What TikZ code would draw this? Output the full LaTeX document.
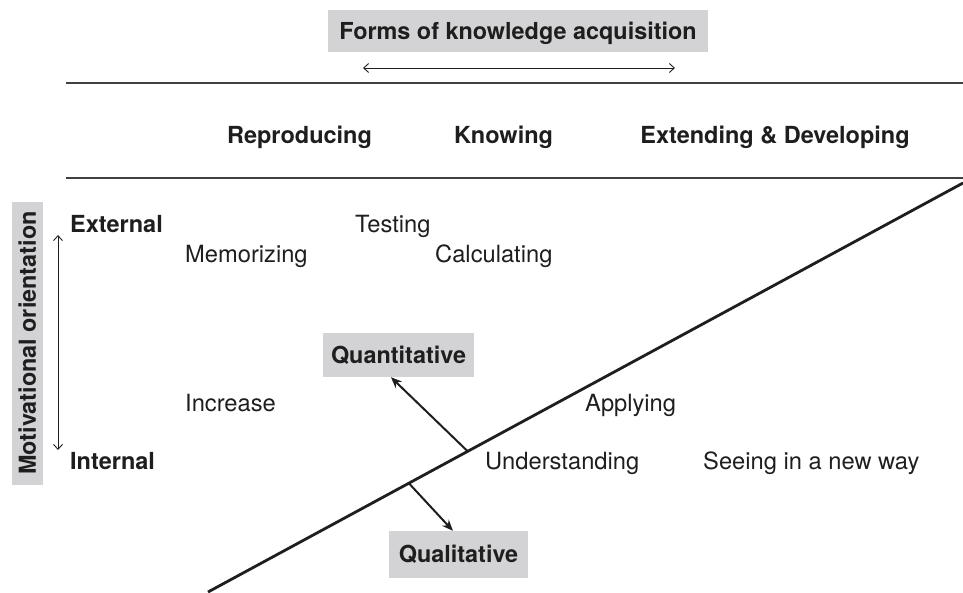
\documentclass[tikz,border=0pt]{standalone}
\usepackage{fontspec}
\setmainfont{TeX Gyre Heros}
\usetikzlibrary{arrows.meta,calc}
\definecolor{boxgray}{RGB}{211,211,213}
\definecolor{ink}{RGB}{30,30,30}
\tikzset{
  txt/.style={inner sep=0pt, anchor=base west, font=\fontsize{23.7}{28}\selectfont, text=ink},
  hdr/.style={inner sep=0pt, anchor=base, font=\fontsize{23.5}{28}\selectfont\bfseries, text=ink},
  bld/.style={inner sep=0pt, anchor=base west, font=\fontsize{23.5}{28}\selectfont\bfseries, text=ink},
  graybox/.style={fill=boxgray, inner sep=0pt, text height=16.5pt, text depth=0pt, font=\fontsize{23.4}{28}\selectfont\bfseries, text=ink},
  rule/.style={line width=1.3pt, draw=ink!85},
  dbl/.style={line width=0.9pt, draw=ink, {Straight Barb[length=5pt,width=9pt]}-{Straight Barb[length=5pt,width=9pt]}},
  arr/.style={line width=2pt, draw=ink, -{Stealth[length=11pt,width=9pt]}}
}
\begin{document}
\begin{tikzpicture}[x=1pt,y=-1pt]
\useasboundingbox (0,0) rectangle (963,592);
% title
\node[graybox, minimum width=380pt, minimum height=42pt] (title) at (518,31) {Forms of knowledge acquisition};
\coordinate (ha) at (363,68);
\coordinate (hb) at (675,68);
\draw[dbl] (ha) -- (hb);
% rules
\coordinate (r1a) at (66,83); \coordinate (r1b) at (963,83);
\coordinate (r2a) at (66,178); \coordinate (r2b) at (963,178);
\draw[rule] (r1a) -- (r1b);
\draw[rule] (r2a) -- (r2b);
% headers
\node[hdr] (repro) at (299.5,143) {Reproducing};
\node[hdr] (know) at (503.5,143) {Knowing};
\node[hdr] (ext) at (775,143) {Extending \& Developing};
% left axis
\node[graybox, minimum width=283pt, minimum height=31pt, rotate=90] (motiv) at (27.5,343) {Motivational orientation};
\node[bld] (external) at (70,232) {External};
\node[bld] (internal) at (70,469) {Internal};
\coordinate (va) at (58,235);
\coordinate (vb) at (58,450);
\draw[dbl] (va) -- (vb);
% words
\node[txt] (testing) at (355,232) {Testing};
\node[txt] (memo) at (185,262) {Memorizing};
\node[txt] (calc) at (435,262) {Calculating};
\node[txt] (incr) at (185,411) {Increase};
\node[txt] (apply) at (585,411) {Applying};
\node[txt] (under) at (485,469) {Understanding};
\node[txt] (seeing) at (703,469) {Seeing in a new way};
% diagonal
\coordinate (dl) at (208,592);
\coordinate (dr) at (963,183);
\draw[line width=2.8pt, draw=ink] (dl) -- (dr);
% boxes
\node[graybox, minimum width=151pt, minimum height=44pt] (quant) at (398.5,355) {Quantitative};
\node[graybox, minimum width=139pt, minimum height=47pt] (qual) at (458.5,554.5) {Qualitative};
\coordinate (qs) at ($(dl)!0.344!(dr)$);
\coordinate (ls) at ($(dl)!0.266!(dr)$);
\draw[arr] (qs) -- ($(quant.south west)!0.45!(quant.south east)$);
\draw[arr] (ls) -- ($(qual.north west)!0.46!(qual.north east)$);
\end{tikzpicture}
\end{document}
